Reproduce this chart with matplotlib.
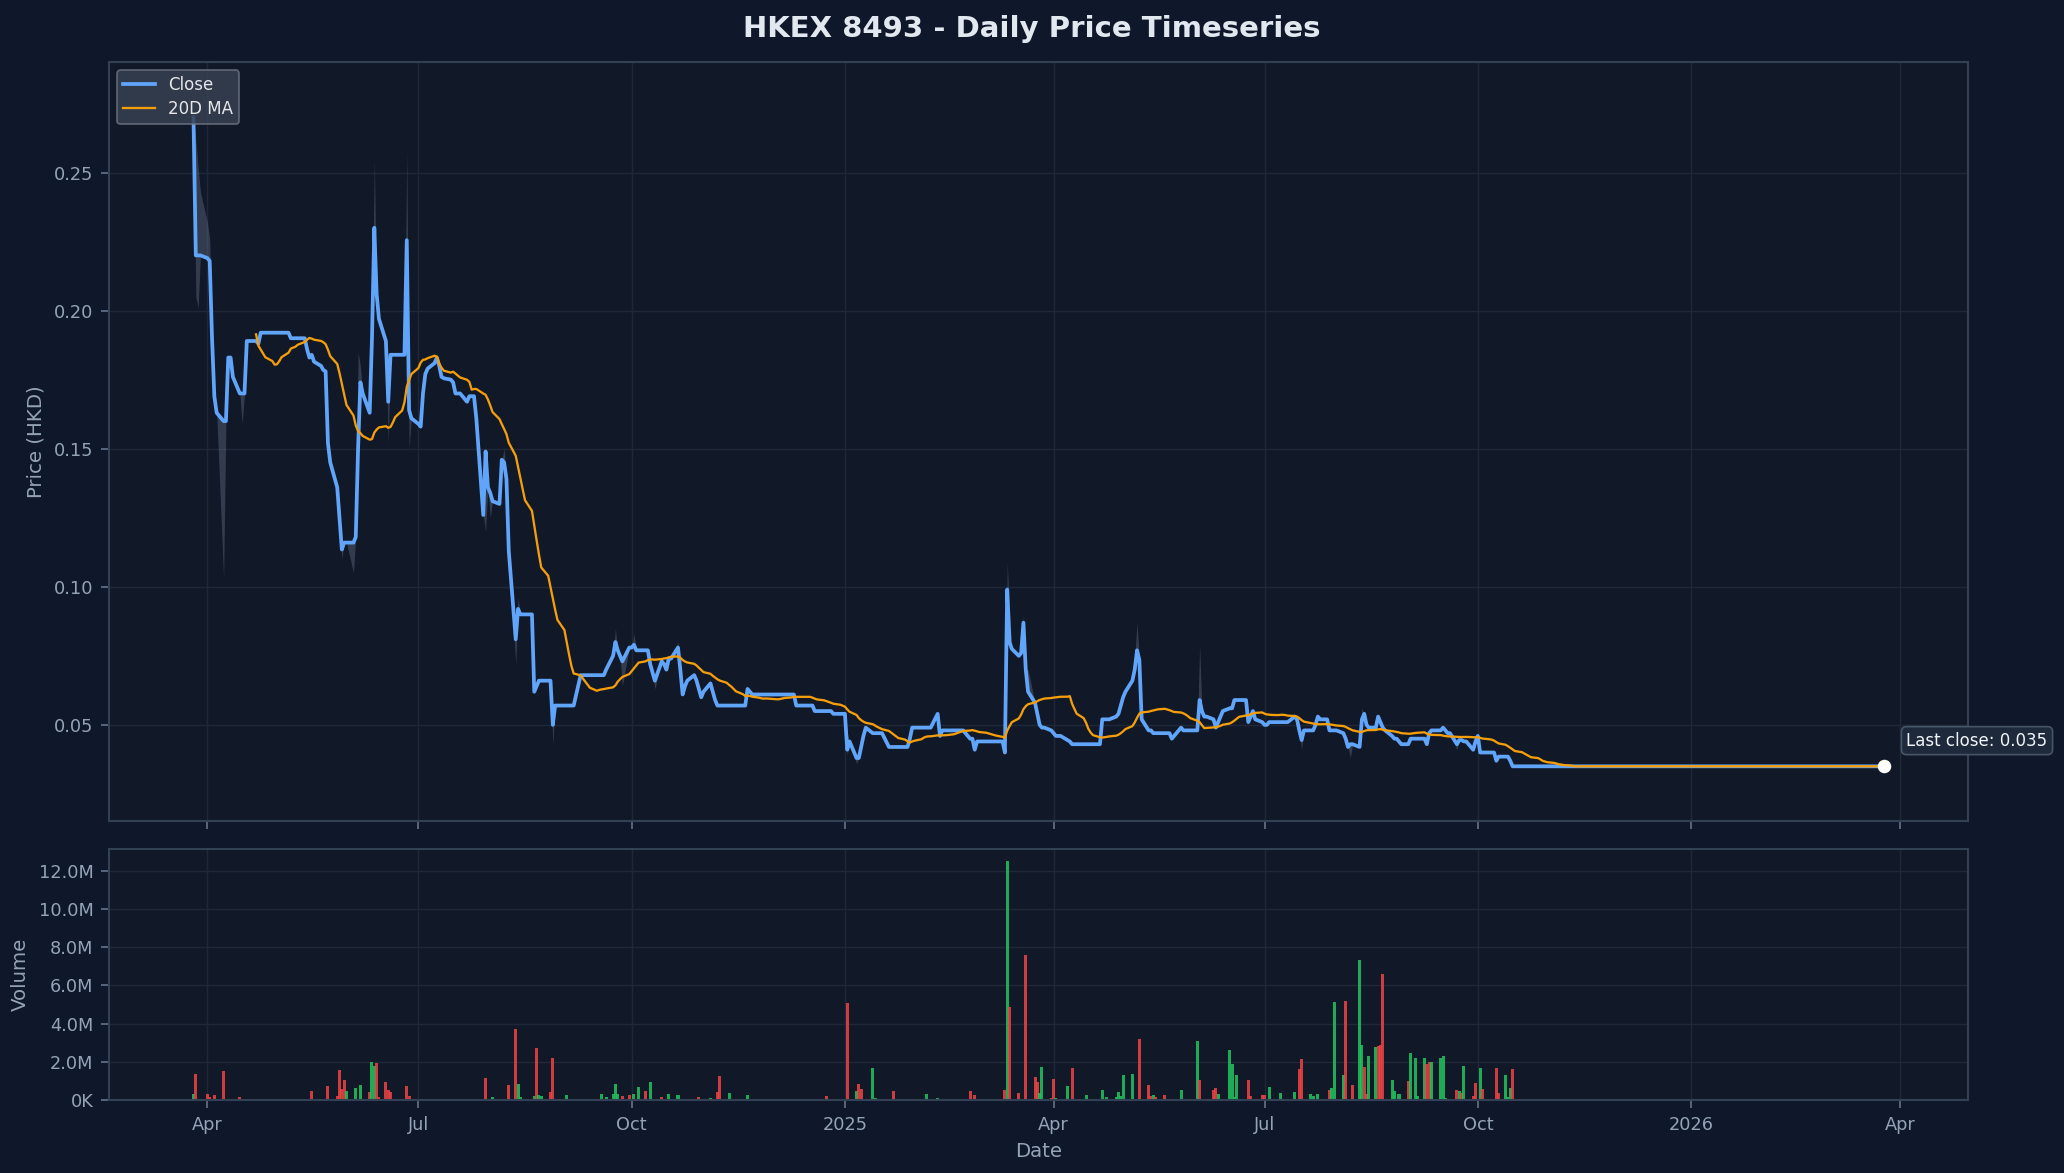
import numpy as np
import pandas as pd
import matplotlib
matplotlib.use("Agg")
import matplotlib.pyplot as plt
import matplotlib.dates as mdates
from matplotlib.ticker import FuncFormatter

# ---------------- data ----------------
start_date = "2024-03-26"
end_date = "2026-03-25"

close_dates = [
    "2024-03-26", "2024-03-27", "2024-04-01", "2024-04-02", "2024-04-03", "2024-04-04", "2024-04-05",
    "2024-04-08", "2024-04-10", "2024-04-12", "2024-04-15", "2024-04-18", "2024-04-23", "2024-04-24",
    "2024-05-07", "2024-05-14", "2024-05-15", "2024-05-16", "2024-05-17", "2024-05-20", "2024-05-21",
    "2024-05-22", "2024-05-23", "2024-05-24", "2024-05-27", "2024-05-28", "2024-05-29", "2024-05-30",
    "2024-06-04", "2024-06-05", "2024-06-06", "2024-06-07", "2024-06-10", "2024-06-11", "2024-06-12",
    "2024-06-13", "2024-06-14", "2024-06-17", "2024-06-18", "2024-06-19", "2024-06-26", "2024-06-27",
    "2024-06-28", "2024-07-01", "2024-07-02", "2024-07-03", "2024-07-04", "2024-07-05", "2024-07-08",
    "2024-07-09", "2024-07-10", "2024-07-11", "2024-07-12", "2024-07-15", "2024-07-16", "2024-07-17",
    "2024-07-22", "2024-07-23", "2024-07-26", "2024-07-29", "2024-07-30", "2024-07-31", "2024-08-01",
    "2024-08-02", "2024-08-05", "2024-08-06", "2024-08-07", "2024-08-08", "2024-08-09", "2024-08-12",
    "2024-08-13", "2024-08-14", "2024-08-20", "2024-08-21", "2024-08-22", "2024-08-28", "2024-08-29",
    "2024-09-09", "2024-09-20", "2024-09-23", "2024-09-24", "2024-09-25", "2024-09-26", "2024-09-27",
    "2024-09-30", "2024-10-02", "2024-10-03", "2024-10-09", "2024-10-10", "2024-10-11", "2024-10-14",
    "2024-10-15", "2024-10-16", "2024-10-17", "2024-10-21", "2024-10-22", "2024-10-23", "2024-10-24",
    "2024-10-25", "2024-10-28", "2024-10-29", "2024-10-30", "2024-10-31", "2024-11-01", "2024-11-04",
    "2024-11-05", "2024-11-06", "2024-11-07", "2024-11-20", "2024-11-21", "2024-11-22", "2024-12-11",
    "2024-12-19", "2024-12-27",
    "2025-01-02", "2025-01-03", "2025-01-06", "2025-01-08", "2025-01-09", "2025-01-10", "2025-01-13",
    "2025-01-20", "2025-01-29", "2025-01-30", "2025-02-10", "2025-02-11", "2025-02-12", "2025-02-24",
    "2025-02-26", "2025-02-27", "2025-03-11", "2025-03-12", "2025-03-13", "2025-03-14", "2025-03-17",
    "2025-03-18", "2025-03-19", "2025-03-20", "2025-03-21", "2025-03-24", "2025-03-25", "2025-03-26",
    "2025-03-27", "2025-03-31", "2025-04-01", "2025-04-02", "2025-04-07", "2025-04-08", "2025-04-09",
    "2025-04-22", "2025-04-28", "2025-04-29", "2025-04-30", "2025-05-01", "2025-05-02", "2025-05-05",
    "2025-05-06", "2025-05-07", "2025-05-08", "2025-05-09", "2025-05-12", "2025-05-14", "2025-05-22",
    "2025-05-23", "2025-05-26", "2025-05-27", "2025-06-03", "2025-06-04", "2025-06-05", "2025-06-09",
    "2025-06-10", "2025-06-11", "2025-06-12", "2025-06-13", "2025-06-16", "2025-06-18", "2025-06-24",
    "2025-06-25", "2025-06-26", "2025-06-27", "2025-06-30", "2025-07-01", "2025-07-03", "2025-07-14",
    "2025-07-15", "2025-07-16", "2025-07-17", "2025-07-18", "2025-07-23", "2025-07-24", "2025-07-25",
    "2025-07-29", "2025-08-04", "2025-08-05", "2025-08-06", "2025-08-07", "2025-08-11", "2025-08-12",
    "2025-08-13", "2025-08-14", "2025-08-15", "2025-08-19", "2025-08-20", "2025-08-21", "2025-08-22",
    "2025-08-25", "2025-08-26", "2025-08-28", "2025-08-29", "2025-09-02", "2025-09-09", "2025-09-10",
    "2025-09-11", "2025-09-16", "2025-09-17", "2025-09-18", "2025-09-22", "2025-09-23", "2025-09-25",
    "2025-09-29", "2025-09-30", "2025-10-01", "2025-10-02", "2025-10-09", "2025-10-10", "2025-10-15",
    "2025-10-16",
]
close_values = [
    0.270, 0.220, 0.219, 0.218, 0.190, 0.169, 0.163,
    0.160, 0.183, 0.176, 0.170, 0.189, 0.188, 0.192,
    0.190, 0.186, 0.183, 0.184, 0.1815, 0.180, 0.1785,
    0.178, 0.152, 0.145, 0.136, 0.125, 0.1135, 0.116,
    0.118, 0.150, 0.174, 0.170, 0.163, 0.190, 0.230,
    0.206, 0.197, 0.189, 0.167, 0.184, 0.2255, 0.164,
    0.161, 0.159, 0.158, 0.170, 0.177, 0.179, 0.181,
    0.183, 0.180, 0.176, 0.1755, 0.175, 0.174, 0.170,
    0.167, 0.169, 0.161, 0.126, 0.149, 0.136, 0.134,
    0.131, 0.130, 0.146, 0.145, 0.139, 0.113, 0.081,
    0.092, 0.090, 0.062, 0.064, 0.066, 0.050, 0.057,
    0.068, 0.070, 0.075, 0.080, 0.077, 0.075, 0.073,
    0.078, 0.079, 0.077, 0.072, 0.069, 0.066, 0.073,
    0.072, 0.070, 0.074, 0.078, 0.070, 0.061, 0.064,
    0.066, 0.068, 0.066, 0.063, 0.060, 0.062, 0.065,
    0.062, 0.059, 0.057, 0.063, 0.062, 0.061, 0.057,
    0.055, 0.054,
    0.041, 0.044, 0.038, 0.042, 0.046, 0.049, 0.047,
    0.042, 0.045, 0.049, 0.054, 0.046, 0.048, 0.045,
    0.041, 0.044, 0.040, 0.099, 0.080, 0.0775, 0.075,
    0.076, 0.087, 0.070, 0.062, 0.058, 0.054, 0.050,
    0.049, 0.048, 0.047, 0.046, 0.0445, 0.044, 0.043,
    0.052, 0.053, 0.054, 0.057, 0.060, 0.062, 0.066,
    0.070, 0.077, 0.0735, 0.052, 0.048, 0.047, 0.045,
    0.046, 0.049, 0.048, 0.059, 0.055, 0.053, 0.052,
    0.049, 0.051, 0.053, 0.055, 0.056, 0.059, 0.051,
    0.053, 0.055, 0.052, 0.051, 0.050, 0.051, 0.053,
    0.052, 0.048, 0.0445, 0.048, 0.050, 0.053, 0.052,
    0.048, 0.047, 0.045, 0.042, 0.043, 0.042, 0.052,
    0.054, 0.050, 0.049, 0.053, 0.051, 0.049, 0.048,
    0.046, 0.045, 0.044, 0.043, 0.045, 0.043, 0.047,
    0.048, 0.049, 0.048, 0.047, 0.043, 0.0445, 0.044,
    0.041, 0.044, 0.046, 0.040, 0.037, 0.0385, 0.037,
    0.035,
]

# intraday extremes that differ from the close
high_dates = ["2024-03-27", "2024-03-28", "2024-03-29", "2024-04-01", "2024-04-02", "2024-06-05",
              "2024-06-06", "2024-06-12", "2024-06-26", "2024-08-07", "2024-08-13", "2024-09-24",
              "2024-10-02", "2024-10-21", "2025-01-02", "2025-03-12", "2025-03-13", "2025-03-19",
              "2025-03-21", "2025-05-06", "2025-05-07", "2025-06-03", "2025-08-12"]
high_values = [0.262, 0.252, 0.243, 0.232, 0.226, 0.185,
               0.180, 0.255, 0.258, 0.150, 0.096, 0.085,
               0.083, 0.080, 0.047, 0.109, 0.092, 0.090,
               0.070, 0.075, 0.087, 0.079, 0.056]
low_dates = ["2024-03-27", "2024-03-28", "2024-04-08", "2024-04-16", "2024-05-29",
             "2024-06-03", "2024-06-18", "2024-06-27", "2024-07-30", "2024-08-01", "2024-08-12",
             "2024-08-28", "2024-09-27", "2024-10-11", "2024-10-22", "2025-01-02", "2025-01-06",
             "2025-07-17", "2025-08-07", "2025-09-22"]
low_values = [0.205, 0.201, 0.103, 0.159, 0.110,
              0.105, 0.152, 0.150, 0.120, 0.125, 0.072,
              0.043, 0.064, 0.063, 0.066, 0.039, 0.036,
              0.041, 0.038, 0.041]

vol_dates = [
    "2024-03-26", "2024-03-27", "2024-04-01", "2024-04-02", "2024-04-04", "2024-04-08", "2024-04-09",
    "2024-04-15", "2024-04-23", "2024-04-24", "2024-04-26", "2024-05-16", "2024-05-20", "2024-05-23",
    "2024-05-27", "2024-05-28", "2024-05-29", "2024-05-30", "2024-05-31", "2024-06-04", "2024-06-06",
    "2024-06-10", "2024-06-11", "2024-06-12", "2024-06-13", "2024-06-14", "2024-06-17", "2024-06-18",
    "2024-06-19", "2024-06-26", "2024-06-27", "2024-07-30", "2024-08-02", "2024-08-09", "2024-08-12",
    "2024-08-13", "2024-08-14", "2024-08-20", "2024-08-21", "2024-08-22", "2024-08-23", "2024-08-27",
    "2024-08-28", "2024-08-29", "2024-09-03", "2024-09-18", "2024-09-20", "2024-09-23", "2024-09-24",
    "2024-09-25", "2024-09-27", "2024-09-30", "2024-10-02", "2024-10-04", "2024-10-07", "2024-10-09",
    "2024-10-14", "2024-10-17", "2024-10-21", "2024-10-23", "2024-10-30", "2024-11-04", "2024-11-07",
    "2024-11-08", "2024-11-12", "2024-11-20", "2024-11-27", "2024-12-24",
    "2025-01-02", "2025-01-06", "2025-01-07", "2025-01-08", "2025-01-13", "2025-01-14", "2025-01-22",
    "2025-02-05", "2025-02-10", "2025-02-24", "2025-02-26", "2025-03-03", "2025-03-05", "2025-03-11",
    "2025-03-12", "2025-03-13", "2025-03-17", "2025-03-20", "2025-03-24", "2025-03-25", "2025-03-26",
    "2025-03-27", "2025-03-31", "2025-04-01", "2025-04-02", "2025-04-07", "2025-04-09", "2025-04-15",
    "2025-04-22", "2025-04-24", "2025-04-28", "2025-04-29", "2025-04-30", "2025-05-01", "2025-05-05",
    "2025-05-08", "2025-05-12", "2025-05-13", "2025-05-14", "2025-05-15", "2025-05-19", "2025-05-26",
    "2025-06-02", "2025-06-03", "2025-06-09", "2025-06-10", "2025-06-11", "2025-06-16", "2025-06-17",
    "2025-06-18", "2025-06-19", "2025-06-24", "2025-06-25", "2025-06-30", "2025-07-01", "2025-07-03",
    "2025-07-08", "2025-07-14", "2025-07-16", "2025-07-17", "2025-07-21", "2025-07-22", "2025-07-24",
    "2025-07-29", "2025-07-30", "2025-07-31", "2025-08-04", "2025-08-05", "2025-08-06", "2025-08-08",
    "2025-08-11", "2025-08-12", "2025-08-13", "2025-08-14", "2025-08-15", "2025-08-18", "2025-08-19",
    "2025-08-20", "2025-08-21", "2025-08-25", "2025-08-26", "2025-08-28", "2025-09-01", "2025-09-02",
    "2025-09-04", "2025-09-05", "2025-09-08", "2025-09-09", "2025-09-10", "2025-09-11", "2025-09-15",
    "2025-09-16", "2025-09-17", "2025-09-22", "2025-09-23", "2025-09-24", "2025-09-25", "2025-09-29",
    "2025-09-30", "2025-10-02", "2025-10-03", "2025-10-08", "2025-10-09", "2025-10-10", "2025-10-13",
    "2025-10-14", "2025-10-15", "2025-10-16",
]
vol_millions = [
    0.30, 1.35, 0.30, 0.15, 0.25, 1.50, 0.05,
    0.15, 0.05, 0.05, 0.05, 0.45, 0.05, 0.75,
    0.20, 1.55, 0.60, 1.05, 0.45, 0.65, 0.80,
    0.40, 2.00, 1.80, 1.95, 0.15, 0.95, 0.55,
    0.40, 0.75, 0.20, 1.15, 0.15, 0.80, 3.70,
    0.85, 0.15, 0.20, 2.70, 0.25, 0.20, 0.40,
    2.20, 0.05, 0.25, 0.30, 0.15, 0.30, 0.85,
    0.30, 0.20, 0.25, 0.30, 0.70, 0.45, 0.95,
    0.15, 0.30, 0.25, 0.05, 0.15, 0.10, 0.40,
    1.25, 0.35, 0.25, 0.05, 0.20,
    5.05, 0.45, 0.85, 0.60, 1.70, 0.10, 0.45,
    0.30, 0.10, 0.45, 0.25, 0.08, 0.08, 0.50,
    12.50, 4.85, 0.35, 7.60, 1.20, 0.95, 0.35,
    1.75, 0.10, 1.10, 0.10, 0.75, 1.70, 0.25,
    0.50, 0.15, 0.15, 0.40, 0.20, 1.30, 1.35,
    3.20, 0.80, 0.20, 0.25, 0.15, 0.25, 0.55,
    3.10, 1.05, 0.55, 0.65, 0.30, 2.60, 1.90,
    0.15, 1.30, 1.05, 0.20, 0.25, 0.25, 0.70,
    0.35, 0.40, 1.60, 2.15, 0.30, 0.20, 0.30,
    0.55, 0.65, 5.10, 1.30, 5.20, 0.05, 0.80,
    7.30, 2.90, 1.75, 0.30, 2.30, 2.75, 2.85,
    2.90, 6.60, 1.05, 0.45, 0.30, 1.00, 2.45,
    2.20, 0.20, 2.20, 1.90, 2.00, 2.00, 2.20,
    2.30, 0.10, 0.50, 0.45, 0.35, 1.80, 0.20,
    0.90, 1.65, 0.60, 0.05, 1.65, 0.35, 1.30,
    0.15, 0.65, 1.60,
]
vol_up = [
    1, 0, 0, 0, 0, 0, 1,
    0, 1, 1, 1, 0, 0, 0,
    0, 0, 0, 0, 1, 1, 1,
    0, 1, 1, 0, 0, 0, 0,
    0, 0, 0, 0, 1, 0, 0,
    1, 1, 1, 0, 1, 1, 0,
    0, 1, 1, 1, 1, 1, 1,
    1, 0, 0, 1, 1, 0, 1,
    0, 1, 1, 1, 0, 1, 0,
    0, 1, 1, 1, 0,
    0, 1, 0, 0, 1, 1, 0,
    1, 1, 0, 0, 1, 1, 0,
    1, 0, 0, 0, 0, 0, 1,
    1, 0, 0, 1, 1, 0, 1,
    1, 1, 1, 1, 1, 1, 1,
    0, 0, 0, 1, 0, 0, 1,
    1, 0, 0, 0, 1, 1, 1,
    1, 1, 0, 0, 0, 0, 1,
    1, 1, 0, 0, 1, 1, 1,
    0, 1, 1, 1, 0, 1, 0,
    1, 1, 0, 0, 1, 1, 0,
    0, 0, 1, 1, 1, 0, 1,
    1, 1, 1, 0, 0, 1, 1,
    1, 1, 0, 1, 0, 1, 0,
    0, 1, 0, 1, 0, 0, 1,
    1, 1, 0,
]

# ---------------- build daily series ----------------
bdays = pd.bdate_range(start_date, end_date)
cp = pd.Series(close_values, index=pd.to_datetime(close_dates))
close = cp.reindex(bdays.union(cp.index)).ffill().reindex(bdays)
ma20 = close.rolling(20, min_periods=20).mean()


def apply_extremes(base, dates, values, fn):
    out = base.copy()
    for d, v in zip(dates, values):
        i = bdays.get_indexer([pd.Timestamp(d)], method="nearest")[0]
        out.iloc[i] = fn(out.iloc[i], v)
    return out


high = apply_extremes(close, high_dates, high_values, max)
low = apply_extremes(close, low_dates, low_values, min)

vdates = pd.to_datetime(vol_dates)
vols = np.array(vol_millions) * 1e6

# ---------------- style ----------------
FIG_BG = "#0f172a"
AX_BG = "#111827"
SPINE = "#334155"
TXT = "#94a3b8"
GRID = "#1e2838"
BLUE = "#60a5fa"
ORANGE = "#f59e0b"
GREEN = "#22c55e"
RED = "#ef4444"

fig = plt.figure(figsize=(2064 / 150, 1173 / 150), dpi=150, facecolor=FIG_BG)
ax = fig.add_axes([0.0528, 0.3001, 0.9007, 0.6470])
axv = fig.add_axes([0.0528, 0.0622, 0.9007, 0.2140], sharex=ax)

for a in (ax, axv):
    a.set_facecolor(AX_BG)
    for s in a.spines.values():
        s.set_color(SPINE)
        s.set_linewidth(1.0)
    a.tick_params(colors="#64748b", labelcolor=TXT, labelsize=8.5, length=4)
    a.grid(True, color=GRID, linewidth=0.7)
    a.set_axisbelow(True)

ax.fill_between(close.index, low.values, high.values, color="#64748b", alpha=0.4,
                linewidth=0, zorder=1)
ax.plot(close.index, close.values, color=BLUE, linewidth=1.8, label="Close", zorder=3)
ax.plot(ma20.index, ma20.values, color=ORANGE, linewidth=1.1, label="20D MA", zorder=4)
ax.scatter([close.index[-1]], [close.values[-1]], s=30, color="white", zorder=6)
ax.annotate(f"Last close: {close.values[-1]:.3f}", xy=(close.index[-1], close.values[-1]),
            xytext=(11, 8), textcoords="offset points", ha="left", va="bottom",
            fontsize=8, color="#f1f5f9",
            bbox=dict(boxstyle="round,pad=0.3", facecolor="#1e293b", edgecolor="#475569",
                      linewidth=0.8), zorder=7, annotation_clip=False)

span = close.index[-1] - close.index[0]
ax.set_xlim(close.index[0] - span * 0.05, close.index[-1] + span * 0.05)
ax.set_ylim(0.0152, 0.29)
ax.set_ylabel("Price (HKD)", color=TXT, fontsize=9.5)

leg = ax.legend(loc="upper left", fontsize=8, facecolor="#374151", edgecolor="#6b7280",
                framealpha=0.85, labelcolor="#e5e7eb", labelspacing=0.35,
                borderpad=0.35, handlelength=1.9)
leg.get_frame().set_linewidth(0.8)
plt.setp(ax.get_xticklabels(), visible=False)

colors = [GREEN if u else RED for u in vol_up]
axv.bar(vdates, vols, width=1.3, color=colors, alpha=0.85, linewidth=0)
axv.set_ylim(0, vols.max() * 1.05)
axv.set_ylabel("Volume", color=TXT, fontsize=9.5)
axv.set_xlabel("Date", color=TXT, fontsize=9.5)
axv.yaxis.set_major_formatter(FuncFormatter(
    lambda x, p: f"{x / 1e6:.1f}M" if x >= 1e6 else f"{x / 1e3:.0f}K"))

axv.xaxis.set_major_locator(mdates.MonthLocator(bymonth=[1, 4, 7, 10]))


def date_fmt(x, pos):
    d = mdates.num2date(x)
    return str(d.year) if d.month == 1 else d.strftime("%b")


axv.xaxis.set_major_formatter(FuncFormatter(date_fmt))

fig.suptitle("HKEX 8493 - Daily Price Timeseries", color="#e2e8f0", fontsize=14,
             fontweight="bold", y=0.975, va="center")

fig.savefig("out.png", dpi=150, facecolor=FIG_BG)
